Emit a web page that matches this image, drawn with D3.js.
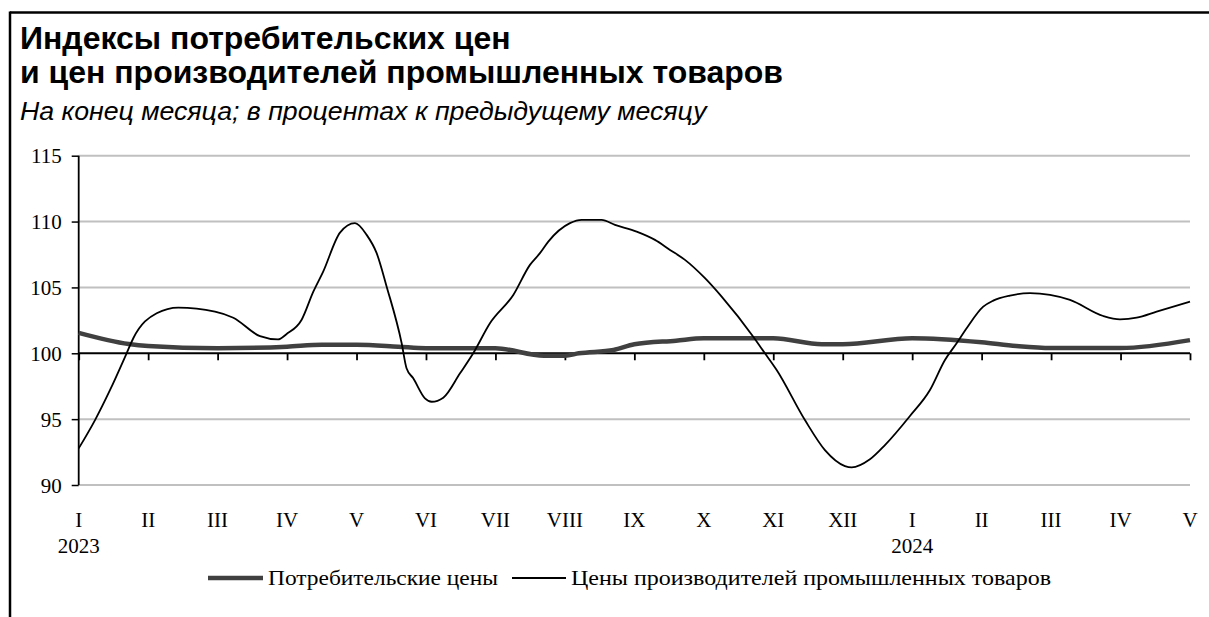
<!DOCTYPE html>
<html><head><meta charset="utf-8">
<script src="https://cdn.jsdelivr.net/npm/d3@7"></script>
<style>
html,body{margin:0;padding:0;background:#fff;}
svg{display:block;}
</style></head>
<body>
<svg id="c" width="1209" height="617"></svg>
<script>
// ---- data ----
const monthLabels = ["I","II","III","IV","V","VI","VII","VIII","IX","X","XI","XII","I","II","III","IV","V"];
const yearLabels = ["2023","2024"];
const yearLabelIndex = [0, 12];
const yTicks = [90, 95, 100, 105, 110, 115];

// CPI (month index, value)
const cpiT = [0, 0.72, 1, 2, 3, 3.5, 4, 4.6, 5, 6, 6.7, 7, 7.2, 7.7, 8, 8.6, 9, 10, 10.7, 11, 12, 13, 13.5, 14, 15, 16];
const cpiValues = [101.55, 100.7, 100.55, 100.38, 100.5, 100.65, 100.65, 100.5, 100.38, 100.38, 99.82, 99.82, 100.0, 100.25, 100.68, 100.96, 101.14, 101.14, 100.68, 100.68, 101.14, 100.83, 100.55, 100.4, 100.4, 101.0];

// Industrial producer prices (month index, value)
const ppiT = [0, 0.235, 0.45, 0.69, 0.786, 1.123, 1.434, 1.962, 2.226, 2.61, 2.87, 2.99, 3.21, 3.378, 3.52, 3.762, 3.978, 4.146, 4.29, 4.434, 4.65, 4.72, 4.817, 4.985, 5.082, 5.249, 5.49, 5.68, 5.921, 6.257, 6.497, 6.641, 6.761, 7.073, 7.242, 7.529, 7.721, 8.033, 8.297, 8.513, 8.729, 9.017, 9.257, 9.712, 9.88, 10.049, 10.456, 10.744, 11.032, 11.129, 11.392, 11.608, 11.968, 12.256, 12.472, 12.64, 12.784, 13.023, 13.167, 13.408, 13.696, 13.984, 14.272, 14.751, 14.992, 15.232, 15.52, 16];
const ppiValues = [92.78, 94.93, 97.2, 100.0, 101.14, 103.04, 103.47, 103.16, 102.7, 101.3, 101.05, 101.45, 102.55, 104.68, 106.2, 109.16, 109.88, 108.99, 107.6, 105.06, 100.76, 98.86, 98.1, 96.58, 96.32, 96.63, 98.48, 100.0, 102.28, 104.43, 106.71, 107.6, 108.48, 109.88, 110.13, 110.13, 109.75, 109.24, 108.61, 107.85, 107.09, 105.7, 104.3, 101.26, 100.0, 98.73, 94.93, 92.65, 91.44, 91.34, 91.95, 93.03, 95.24, 97.21, 99.49, 100.76, 101.9, 103.54, 104.0, 104.38, 104.56, 104.43, 104.05, 102.83, 102.58, 102.7, 103.16, 103.92];

const seriesNames = ["Потребительские цены", "Цены производителей промышленных товаров"];
const titleLines = ["Индексы потребительских цен", "и цен производителей промышленных товаров"];
const subtitle = "На конец месяца; в процентах к предыдущему месяцу";

// ---- drawing ----
const svg = d3.select("#c");
const serif = "'Liberation Serif','Times New Roman',serif";
const sans = "'Liberation Sans',Arial,sans-serif";

const x = d3.scaleLinear().domain([0, 16]).range([78.7, 1190]);
const y = d3.scaleLinear().domain([90, 115]).range([485, 155.7]);

// frame
svg.append("line").attr("x1", 10).attr("x2", 1209).attr("y1", 12.5).attr("y2", 12.5)
  .attr("stroke", "#000").attr("stroke-width", 2.5);
svg.append("line").attr("x1", 10).attr("x2", 10).attr("y1", 11.5).attr("y2", 617)
  .attr("stroke", "#000").attr("stroke-width", 2.5);

// titles (font size fitted to the reference's text width)
function fitText(sel, base, target) {
  sel.attr("font-size", base);
  const w = sel.node().getComputedTextLength();
  const s = base * target / w;
  sel.attr("font-size", s);
  return s;
}
const t1 = svg.append("text").attr("x", 20).attr("y", 49).text(titleLines[0])
  .attr("font-family", sans).attr("font-weight", "bold");
const t2 = svg.append("text").attr("x", 20).attr("y", 83).text(titleLines[1])
  .attr("font-family", sans).attr("font-weight", "bold");
const ts = fitText(t2, 26, 763);
t1.attr("font-size", ts);
const st = svg.append("text").attr("x", 20).attr("y", 120).text(subtitle)
  .attr("font-family", sans).attr("font-style", "italic");
fitText(st, 22, 687);

// grid
svg.append("g").selectAll("line").data(yTicks.filter(d => d !== 100)).join("line")
  .attr("x1", x(0)).attr("x2", x(16))
  .attr("y1", d => y(d)).attr("y2", d => y(d))
  .attr("stroke", "#c0c0c0").attr("stroke-width", 2);

// y axis
const yAxis = svg.append("g").attr("transform", `translate(${x(0)},0)`)
  .call(d3.axisLeft(y).tickValues(yTicks).tickSize(7).tickPadding(10).tickFormat(d3.format("d")));
yAxis.select(".domain").attr("stroke", "#000").attr("stroke-width", 1.8).attr("d", `M0,${y(90)}V${y(115)}`);
yAxis.selectAll(".tick line").attr("stroke", "#000").attr("stroke-width", 1.5);
yAxis.selectAll(".tick text").attr("font-family", serif).attr("font-size", 21).attr("fill", "#000").attr("dy", "0.34em");

// x axis at 100
const xAxis = svg.append("g").attr("transform", `translate(0,${y(100)})`)
  .call(d3.axisBottom(x).tickValues(d3.range(0, 17)).tickSize(7).tickFormat(""));
xAxis.select(".domain").attr("stroke", "#000").attr("stroke-width", 2).attr("d", `M${x(0)},0H${x(16)}`);
xAxis.selectAll(".tick line").attr("stroke", "#000").attr("stroke-width", 1.8);

// month labels
svg.append("g").selectAll("text").data(monthLabels).join("text")
  .attr("x", (d, i) => x(i)).attr("y", 527).attr("text-anchor", "middle")
  .attr("font-family", serif).attr("font-size", 21).text(d => d);
svg.append("g").selectAll("text").data(yearLabels).join("text")
  .attr("x", (d, i) => x(yearLabelIndex[i])).attr("y", 553).attr("text-anchor", "middle")
  .attr("font-family", serif).attr("font-size", 21).text(d => d);

// lines
const line = d3.line().x(d => x(d[0])).y(d => y(d[1])).curve(d3.curveMonotoneX);
svg.append("path").datum(cpiT.map((t, i) => [t, cpiValues[i]]))
  .attr("d", line).attr("fill", "none").attr("stroke", "#404040").attr("stroke-width", 4.5)
  .attr("stroke-linejoin", "round");
svg.append("path").datum(ppiT.map((t, i) => [t, ppiValues[i]]))
  .attr("d", line).attr("fill", "none").attr("stroke", "#000").attr("stroke-width", 1.8)
  .attr("stroke-linejoin", "round");

// legend
const lg = svg.append("g");
lg.append("line").attr("x1", 208).attr("x2", 263).attr("y1", 578).attr("y2", 578)
  .attr("stroke", "#404040").attr("stroke-width", 4.5);
lg.append("text").attr("x", 268).attr("y", 585).text(seriesNames[0])
  .attr("font-family", serif).attr("font-size", 21)
  .attr("textLength", 230).attr("lengthAdjust", "spacingAndGlyphs");
lg.append("line").attr("x1", 512).attr("x2", 566).attr("y1", 578).attr("y2", 578)
  .attr("stroke", "#000").attr("stroke-width", 1.8);
lg.append("text").attr("x", 571).attr("y", 585).text(seriesNames[1])
  .attr("font-family", serif).attr("font-size", 21)
  .attr("textLength", 480).attr("lengthAdjust", "spacingAndGlyphs");
</script>
</body></html>
